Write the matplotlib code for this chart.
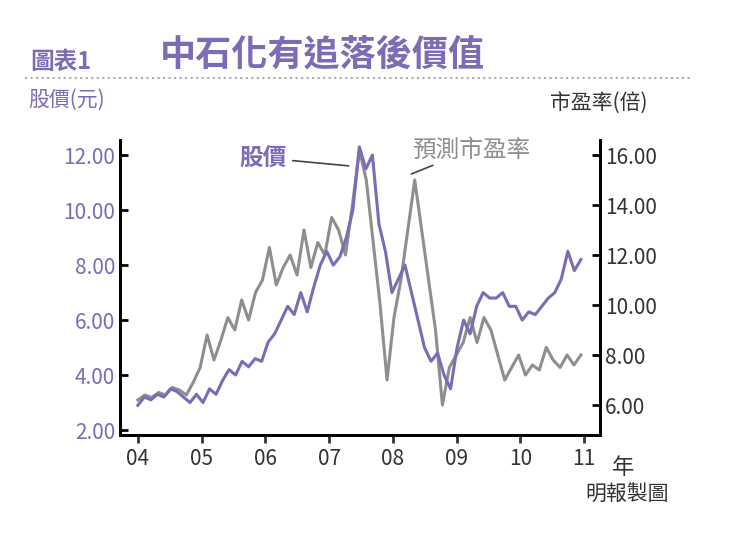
import numpy as np
import matplotlib.pyplot as plt

plt.rcParams['font.family'] = ['Noto Sans CJK TC', 'DejaVu Sans']

purple = "#7d6bb5"
grey = "#8e8e8e"

# share price (HK$), roughly monthly 2004 - late 2010
price = [2.9, 3.2, 3.1, 3.3, 3.2, 3.5, 3.4, 3.2, 3.0, 3.3, 3.0, 3.5, 3.3, 3.8, 4.2,
         4.0, 4.5, 4.3, 4.6, 4.5, 5.2, 5.5, 6.0, 6.5, 6.2, 7.0, 6.3, 7.2, 8.0, 8.5,
         8.0, 8.3, 9.0, 10.0, 12.3, 11.5, 12.0, 9.5, 8.5, 7.0, 7.5, 8.0, 7.0, 6.0,
         5.0, 4.5, 4.8, 4.0, 3.5, 5.0, 6.0, 5.5, 6.5, 7.0, 6.8, 6.8, 7.0, 6.5, 6.5,
         6.0, 6.3, 6.2, 6.5, 6.8, 7.0, 7.5, 8.5, 7.8, 8.2]
# forecast P/E (x)
pe = [6.2, 6.4, 6.3, 6.5, 6.4, 6.7, 6.6, 6.4, 6.9, 7.5, 8.8, 7.8, 8.6, 9.5, 9.0,
      10.2, 9.4, 10.5, 11.0, 12.3, 10.8, 11.5, 12.0, 11.2, 13.0, 11.5, 12.5, 12.0,
      13.5, 13.0, 12.0, 14.0, 16.2, 15.0, 12.5, 10.0, 7.0, 9.5, 11.0, 13.0, 15.0,
      13.0, 11.0, 9.0, 6.0, 7.5, 8.0, 8.5, 9.5, 8.5, 9.5, 9.0, 8.0, 7.0, 7.5, 8.0,
      7.2, 7.6, 7.4, 8.3, 7.8, 7.5, 8.0, 7.6, 8.0]
years = ["04", "05", "06", "07", "08", "09", "10", "11"]

t_price = np.linspace(2004.0, 2010.95, len(price))
t_pe = np.linspace(2004.0, 2010.95, len(pe))

fig = plt.figure(figsize=(7.36, 5.4), dpi=100)
ax = fig.add_axes([120/736, 105/540, 480/736, 295/540])
ax2 = ax.twinx()

ax2.plot(t_pe, pe, color=grey, lw=2.2)
ax.plot(t_price, price, color=purple, lw=2.2)
ax.set_zorder(ax2.get_zorder() + 1)
ax.patch.set_visible(False)

ax.set_xlim(2003.72, 2011.25)
ax.set_ylim(1.82, 12.55)
ax2.set_ylim(4.8, 16.6)
ax.set_xticks(range(2004, 2012))
ax.set_xticklabels(years)
ax.set_yticks([2, 4, 6, 8, 10, 12])
ax.set_yticklabels([f"{v:.2f}" for v in [2, 4, 6, 8, 10, 12]], color=purple)
ax2.set_yticks([6, 8, 10, 12, 14, 16])
ax2.set_yticklabels([f"{v:.2f}" for v in [6, 8, 10, 12, 14, 16]], color="#333333")
for a in (ax, ax2):
    a.tick_params(labelsize=15, direction="in", length=6, width=2)
    for s in ("top",):
        a.spines[s].set_visible(False)
    a.spines["left"].set_linewidth(2)
    a.spines["right"].set_linewidth(2)
    a.spines["bottom"].set_linewidth(2)
ax.tick_params(axis="x", colors="#333333", direction="out")

fig.text(30/736, 1 - 62/540, "圖表1", color=purple, fontsize=17, fontweight="bold", va="center")
fig.text(160/736, 1 - 55/540, "中石化有追落後價值", color=purple, fontsize=26, fontweight="bold", va="center")
fig.add_artist(plt.Line2D([25/736, 690/736], [1 - 78/540] * 2, color="#aaaaaa", lw=1.5, ls=":"))
fig.text(28/736, 1 - 100/540, "股價(元)", color=purple, fontsize=15, va="center")
fig.text(550/736, 1 - 103/540, "市盈率(倍)", color="#333333", fontsize=15, va="center")
fig.text(612/736, 1 - 467/540, "年", color="#333333", fontsize=16, va="center")
fig.text(585/736, 1 - 495/540, "明報製圖", color="#333333", fontsize=15, va="center")

ax.annotate("股價", xy=(2007.35, 11.6), xytext=(2005.6, 11.9), color=purple,
            fontsize=17, fontweight="bold", va="center",
            arrowprops=dict(arrowstyle="-", color="#444444", lw=1.2))
ax2.annotate("預測市盈率", xy=(2008.25, 15.2), xytext=(2008.3, 16.2), color=grey,
             fontsize=17, va="center",
             arrowprops=dict(arrowstyle="-", color="#444444", lw=1.2))

fig.savefig("out.png", dpi=100)
